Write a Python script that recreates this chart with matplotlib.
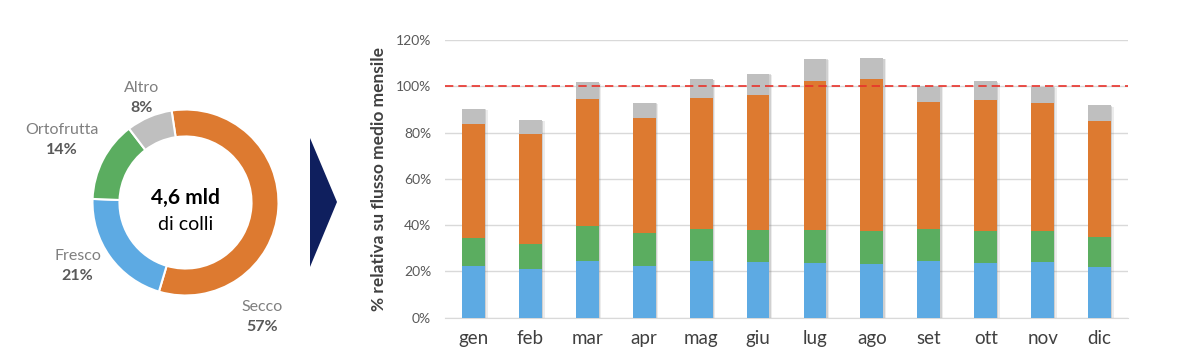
import matplotlib
matplotlib.use("Agg")
import matplotlib.pyplot as plt
import matplotlib.transforms as mtransforms
from matplotlib.patches import Polygon
import numpy as np

plt.rcParams['font.family'] = ['Lato', 'DejaVu Sans']

# Donut data
donut_labels = ["Secco", "Fresco", "Ortofrutta", "Altro"]
donut_values = [57, 21, 14, 8]

# Monthly data (%)
months = ["gen", "feb", "mar", "apr", "mag", "giu", "lug", "ago", "set", "ott", "nov", "dic"]
fresco = [22.3, 20.9, 24.6, 22.5, 24.3, 23.9, 23.5, 23.2, 24.6, 23.8, 24.1, 21.8]
ortofrutta = [12.3, 11.1, 15.0, 14.2, 13.9, 14.0, 14.4, 14.1, 13.6, 13.8, 13.2, 12.9]
secco = [49.1, 47.4, 54.7, 49.7, 56.7, 58.4, 64.3, 65.8, 55.1, 56.4, 55.4, 50.4]
altro = [6.6, 6.0, 7.4, 6.5, 8.3, 9.1, 9.7, 9.1, 6.9, 8.2, 7.1, 6.6]
reference_line = 100

c_blue = "#5DAAE3"
c_green = "#5BAD60"
c_orange = "#DD7A30"
c_gray = "#BFBFBF"

W, H = 1200, 357
fig = plt.figure(figsize=(W / 100, H / 100), dpi=100)

# ---------- Donut ----------
cx, cy, r = 185.5, 202.5, 93
half = 100
axd = fig.add_axes([(cx - half) / W, (H - cy - half) / H, 2 * half / W, 2 * half / H])
lim = half / r
wedges, _ = axd.pie(donut_values, colors=[c_orange, c_blue, c_green, c_gray],
                    startangle=98.6, counterclock=False, radius=1,
                    wedgeprops=dict(width=0.29, edgecolor="white", linewidth=1.5))
axd.set_xlim(-lim, lim)
axd.set_ylim(-lim, lim)
axd.set_aspect("auto")
axd.axis("off")
axd.text(0, 0.05, "4,6 mld", ha="center", va="center", fontsize=15, fontweight="bold", color="black")
axd.text(0, -0.24, "di colli", ha="center", va="center", fontsize=14, color="black")

label_pos = {"Altro": (141.7, 88), "Ortofrutta": (61.7, 130), "Fresco": (77.7, 256), "Secco": (261.7, 307)}
for name, val in zip(donut_labels, donut_values):
    px, py = label_pos[name]
    fig.text(px / W, 1 - py / H, name, ha="center", va="center", fontsize=11.5, color="#7F7F7F")
    fig.text(px / W, 1 - (py + 20) / H, f"{val}%", ha="center", va="center", fontsize=11.5,
             fontweight="bold", color="#595959")

# ---------- Arrow ----------
arrow = Polygon([(310 / W, 1 - 138 / H), (337 / W, 1 - 202 / H), (310 / W, 1 - 267 / H)],
                closed=True, transform=fig.transFigure, facecolor="#0F1F5E", edgecolor="none")
fig.patches.append(arrow)

# ---------- Bars ----------
x0, x1 = 445, 1128
y0, y1 = 317.7, 40
ax = fig.add_axes([x0 / W, (H - y0) / H, (x1 - x0) / W, (y0 - y1) / H])
x = np.arange(len(months))
fresco = np.array(fresco)
ortofrutta = np.array(ortofrutta)
secco = np.array(secco)
altro = np.array(altro)
total = fresco + ortofrutta + secco + altro
bw = 0.4

for dx, a in [(1.0, 0.25), (2.0, 0.15)]:
    shadow_tr = ax.transData + mtransforms.ScaledTranslation(dx / 72, -dx / 2 / 72, fig.dpi_scale_trans)
    ax.bar(x, total, bw, color="#808080", alpha=a, transform=shadow_tr, zorder=2, linewidth=0)

ax.bar(x, fresco, bw, color=c_blue, zorder=3, linewidth=0)
ax.bar(x, ortofrutta, bw, bottom=fresco, color=c_green, zorder=3, linewidth=0)
ax.bar(x, secco, bw, bottom=fresco + ortofrutta, color=c_orange, zorder=3, linewidth=0)
ax.bar(x, altro, bw, bottom=fresco + ortofrutta + secco, color=c_gray, zorder=3, linewidth=0)

ax.axhline(reference_line, color="#E8322A", linestyle=(0, (5, 3)), linewidth=1.2, zorder=4)

ax.set_xlim(-0.5, len(months) - 0.5)
ax.set_ylim(0, 120)
ax.set_yticks(np.arange(0, 121, 20))
ax.set_yticklabels([f"{v}%" for v in range(0, 121, 20)])
ax.set_xticks(x)
ax.set_xticklabels(months)
ax.grid(axis="y", color="#D9D9D9", linewidth=1, zorder=0)
ax.set_axisbelow(True)
for s in ["top", "right", "left"]:
    ax.spines[s].set_visible(False)
ax.spines["bottom"].set_color("#D9D9D9")
ax.tick_params(axis="y", length=0, pad=10, labelsize=10, labelcolor="#595959")
ax.tick_params(axis="x", length=0, pad=9, labelsize=13.5, labelcolor="#404040")
ax.set_ylabel("% relativa su flusso medio mensile", fontsize=12.5, fontweight="bold", color="#404040",
              labelpad=6)

fig.savefig("out.png", dpi=100, facecolor="white")
